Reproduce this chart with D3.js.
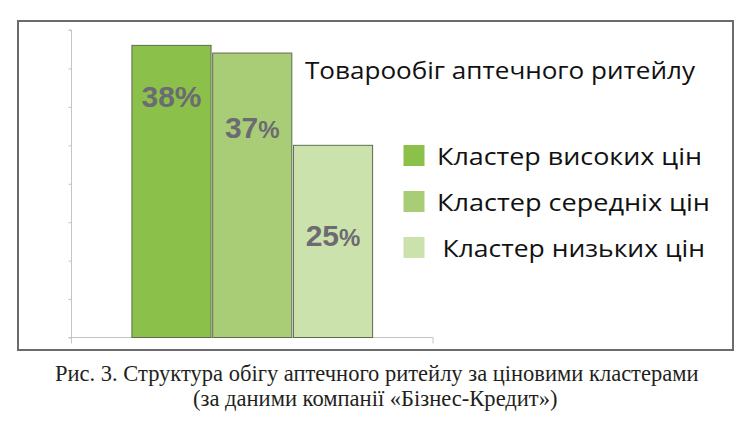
<!DOCTYPE html>
<html><head><meta charset="utf-8">
<script src="https://cdn.jsdelivr.net/npm/d3@7"></script>
<style>html,body{margin:0;padding:0;background:#fff;}svg{display:block;}</style>
</head><body>
<svg id="chart" width="752" height="423"></svg>
<script>
const categories = ["Товарообіг аптечного ритейлу"];
const series = ["Кластер високих цін", "Кластер середніх цін", "Кластер низьких цін"];
const values = [38, 37, 25];
const labelPos = [30, 25.9, 11.9];      // label baseline, in value units
const pctSmall = [false, true, true];
const colors = ["#8bc14a", "#a8cd76", "#cce2ad"];
const yTicks = [0, 5, 10, 15, 20, 25, 30, 35, 40];
const title = "Товарообіг аптечного ритейлу";
const caption = ["Рис. 3. Структура обігу аптечного ритейлу за ціновими кластерами",
                 "(за даними компанії «Бізнес-Кредит»)"];

const svg = d3.select("#chart");

// frame
svg.append("rect").attr("x", 18).attr("y", 21).attr("width", 715).attr("height", 329)
  .attr("fill", "#fff").attr("stroke", "#6b6b6b").attr("stroke-width", 2);

const plot = {left: 71.5, right: 433, top: 30, bottom: 337.5};
const y = d3.scaleLinear().domain([0, 40]).range([plot.bottom, plot.top]);
const x0 = d3.scaleBand().domain(categories).range([plot.left, plot.right]).paddingInner(0).paddingOuter(0.251);
const x1 = d3.scaleBand().domain(series).range([0, x0.bandwidth()]).paddingInner(0.02);

// y axis
const yAxis = d3.axisLeft(y).tickValues(yTicks).tickSize(3).tickFormat("");
const gy = svg.append("g").attr("transform", `translate(${plot.left},0)`).call(yAxis);
gy.select(".domain").attr("stroke", "#c4c4c4").attr("d", `M-3,${plot.top}H0V${plot.bottom + 6}`);
gy.selectAll(".tick line").attr("stroke", "#c4c4c4");

// x axis
const gx = svg.append("g").attr("transform", `translate(0,${plot.bottom})`);
gx.append("line").attr("x1", plot.left - 3).attr("x2", plot.right).attr("stroke", "#c4c4c4");
gx.append("line").attr("x1", plot.right).attr("x2", plot.right).attr("y1", 0).attr("y2", 6).attr("stroke", "#c4c4c4");

// bars
const data = series.map((s, i) => ({s, v: values[i], c: colors[i], lp: labelPos[i], small: pctSmall[i]}));
const gb = svg.append("g").attr("transform", `translate(${x0(categories[0])},0)`);
gb.selectAll("rect").data(data).join("rect")
  .attr("x", d => x1(d.s)).attr("width", x1.bandwidth())
  .attr("y", d => y(d.v)).attr("height", d => y(0) - y(d.v))
  .attr("fill", d => d.c).attr("stroke", "#5e6b50").attr("stroke-width", 1);

const lab = gb.selectAll("text").data(data).join("text")
  .attr("x", d => x1(d.s) + x1.bandwidth() / 2).attr("y", d => y(d.lp))
  .attr("text-anchor", "middle")
  .attr("font-family", "Liberation Sans, Arial, sans-serif").attr("font-weight", "bold")
  .attr("fill", "#6c6a72");
lab.append("tspan").attr("font-size", 30).text(d => d.v);
lab.append("tspan").attr("font-size", d => d.small ? 24 : 30).text("%");

// title
svg.append("text").attr("x", 305).attr("y", 79).attr("font-family", "Open Sans, sans-serif")
  .attr("font-size", 24.5).attr("fill", "#111").attr("textLength", 390).attr("lengthAdjust", "spacingAndGlyphs")
  .text(title);

// legend
const legY = d3.scalePoint().domain(series).range([145, 237]);
const legTextX = [437, 437, 442.5];
const legTextW = [265, 273, 262.5];
const lg = svg.append("g");
const li = lg.selectAll("g").data(data).join("g").attr("transform", d => `translate(0,${legY(d.s)})`);
li.append("rect").attr("x", 403.5).attr("width", 21).attr("height", 21).attr("fill", d => d.c);
li.append("text").attr("x", (d, i) => legTextX[i]).attr("y", 19.5)
  .attr("font-family", "Open Sans, sans-serif").attr("font-size", 23).attr("fill", "#111")
  .attr("textLength", (d, i) => legTextW[i]).attr("lengthAdjust", "spacingAndGlyphs")
  .text(d => d.s);

// caption
const capX = [55, 193], capW = [643.5, 364.5], capY = [380.5, 405.5];
svg.selectAll("text.cap").data(caption).join("text").attr("class", "cap")
  .attr("x", (d, i) => capX[i]).attr("y", (d, i) => capY[i])
  .attr("font-family", "Liberation Serif, serif").attr("font-size", 24).attr("fill", "#231f20")
  .attr("textLength", (d, i) => capW[i]).attr("lengthAdjust", "spacingAndGlyphs")
  .text(d => d);
</script>
</body></html>
